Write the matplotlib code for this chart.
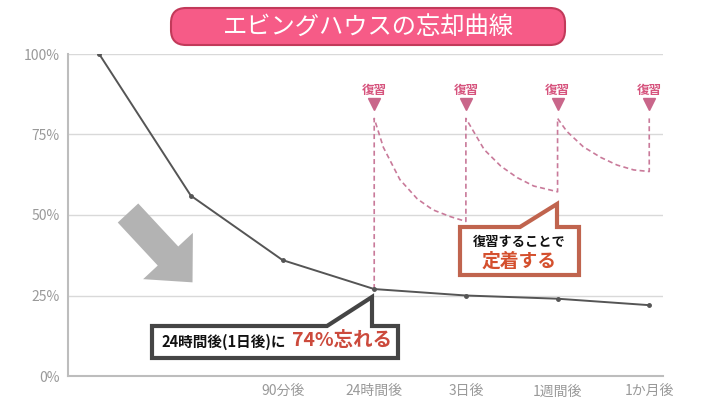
import matplotlib
matplotlib.use("Agg")
import matplotlib.pyplot as plt
import matplotlib.patches as mpatches
import matplotlib.transforms as mtransforms
import numpy as np

plt.rcParams['font.family'] = ['Noto Sans CJK JP', 'DejaVu Sans']

# forgetting curve (retention %)
x_labels = ["", "", "90分後", "24時間後", "3日後", "1週間後", "1か月後"]
retention = [100, 56, 36, 27, 25, 24, 22]

# review curves: relative x offset within one interval, retention %
review_x = [3, 4, 5, 6]
review_top = 80
review_curves = [
    ([0, 0.10, 0.28, 0.47, 0.64, 0.83, 1.0], [80, 71, 61, 55, 51.6, 49.5, 48]),
    ([0, 0.20, 0.38, 0.56, 0.74, 0.93, 1.0], [80, 70.3, 65.2, 61.6, 59, 57.7, 57.2]),
    ([0, 0.10, 0.28, 0.47, 0.65, 0.83, 1.0], [80, 76, 71.2, 67.9, 65.5, 64, 63.5]),
]
y_ticks = [0, 25, 50, 75, 100]

W, H = 726, 408
fig = plt.figure(figsize=(W / 100, H / 100), dpi=100)
# pixel space (origin top-left) for decorations
tp = mtransforms.Affine2D().scale(1 / W, -1 / H).translate(0, 1) + fig.transFigure

ax = fig.add_axes([68 / W, 32 / H, (663 - 68) / W, (376 - 54) / H])
ax.set_xlim(-0.34, 6.15)
ax.set_ylim(0, 100)
for y in y_ticks[1:]:
    ax.axhline(y, color="#d9d9d9", lw=1, zorder=0)
for s in ["top", "right"]:
    ax.spines[s].set_visible(False)
for s in ["left", "bottom"]:
    ax.spines[s].set_color("#bdbdbd")
    ax.spines[s].set_linewidth(1.5)
ax.set_yticks(y_ticks)
ax.set_yticklabels([f"{v}%" for v in y_ticks])
ax.set_xticks(range(len(x_labels)))
ax.set_xticklabels(x_labels)
ax.tick_params(length=0, colors="#999999", labelsize=10)
ax.tick_params(axis="x", pad=6)
ax.tick_params(axis="y", pad=6)

# main curve
ax.plot(range(len(retention)), retention, color="#555555", lw=1.4,
        marker="o", ms=2.5, zorder=3)

# review sawtooth (dashed)
px_, py_ = [review_x[0], review_x[0]], [retention[review_x[0]], review_top]
for x0, (dx, ys) in zip(review_x, review_curves):
    px_ += [x0 + d for d in dx]
    py_ += ys
    px_ += [x0 + 1]
    py_ += [review_top]
ax.plot(px_, py_, color="#c97a9a", lw=1.2, dashes=(3, 2), zorder=2)

# review markers
for x0 in review_x:
    ax.plot(x0, 84.5, marker="v", ms=9, color="#c9668a", zorder=4, clip_on=False)
    ax.text(x0, 88.7, "復習", ha="center", va="center", fontsize=9,
            color="#d6537d", fontweight="bold")

# title box
fig.add_artist(mpatches.FancyBboxPatch((171, 8), 394, 37,
               boxstyle="round,pad=0,rounding_size=15", transform=tp,
               fc="#f65b87", ec="#c23a5a", lw=1.5))
fig.text(368 / W, 1 - 27 / H, "エビングハウスの忘却曲線", ha="center", va="center",
         color="white", fontsize=17.5)

# gray arrow
fig.add_artist(mpatches.FancyArrow(128, 213, 40, 43, width=28, head_width=68,
               head_length=36, length_includes_head=False, transform=tp,
               fc="#b3b3b3", ec="none"))

# callout 1
c1 = [(152, 326), (327, 326), (372, 297), (372, 326), (398, 326), (398, 358), (152, 358)]
fig.add_artist(mpatches.Polygon(c1, closed=True, transform=tp, fc="white",
               ec="#454545", lw=3, joinstyle="miter"))
fig.text(161 / W, 1 - 342 / H, "24時間後(1日後)に", ha="left", va="center",
         fontsize=10.5, fontweight="bold", color="#111111")
fig.text(292 / W, 1 - 341 / H, "74%忘れる", ha="left", va="center",
         fontsize=14, fontweight="bold", color="#cc4a3c")

# callout 2
c2 = [(460, 227), (520, 227), (557, 204), (557, 227), (579, 227), (579, 275), (460, 275)]
fig.add_artist(mpatches.Polygon(c2, closed=True, transform=tp, fc="white",
               ec="#c0644e", lw=3, joinstyle="miter"))
fig.text(519 / W, 1 - 242 / H, "復習することで", ha="center", va="center",
         fontsize=9.5, fontweight="bold", color="#111111")
fig.text(519 / W, 1 - 261 / H, "定着する", ha="center", va="center",
         fontsize=13.5, fontweight="bold", color="#d4502e")

fig.savefig("out.png", dpi=100)
